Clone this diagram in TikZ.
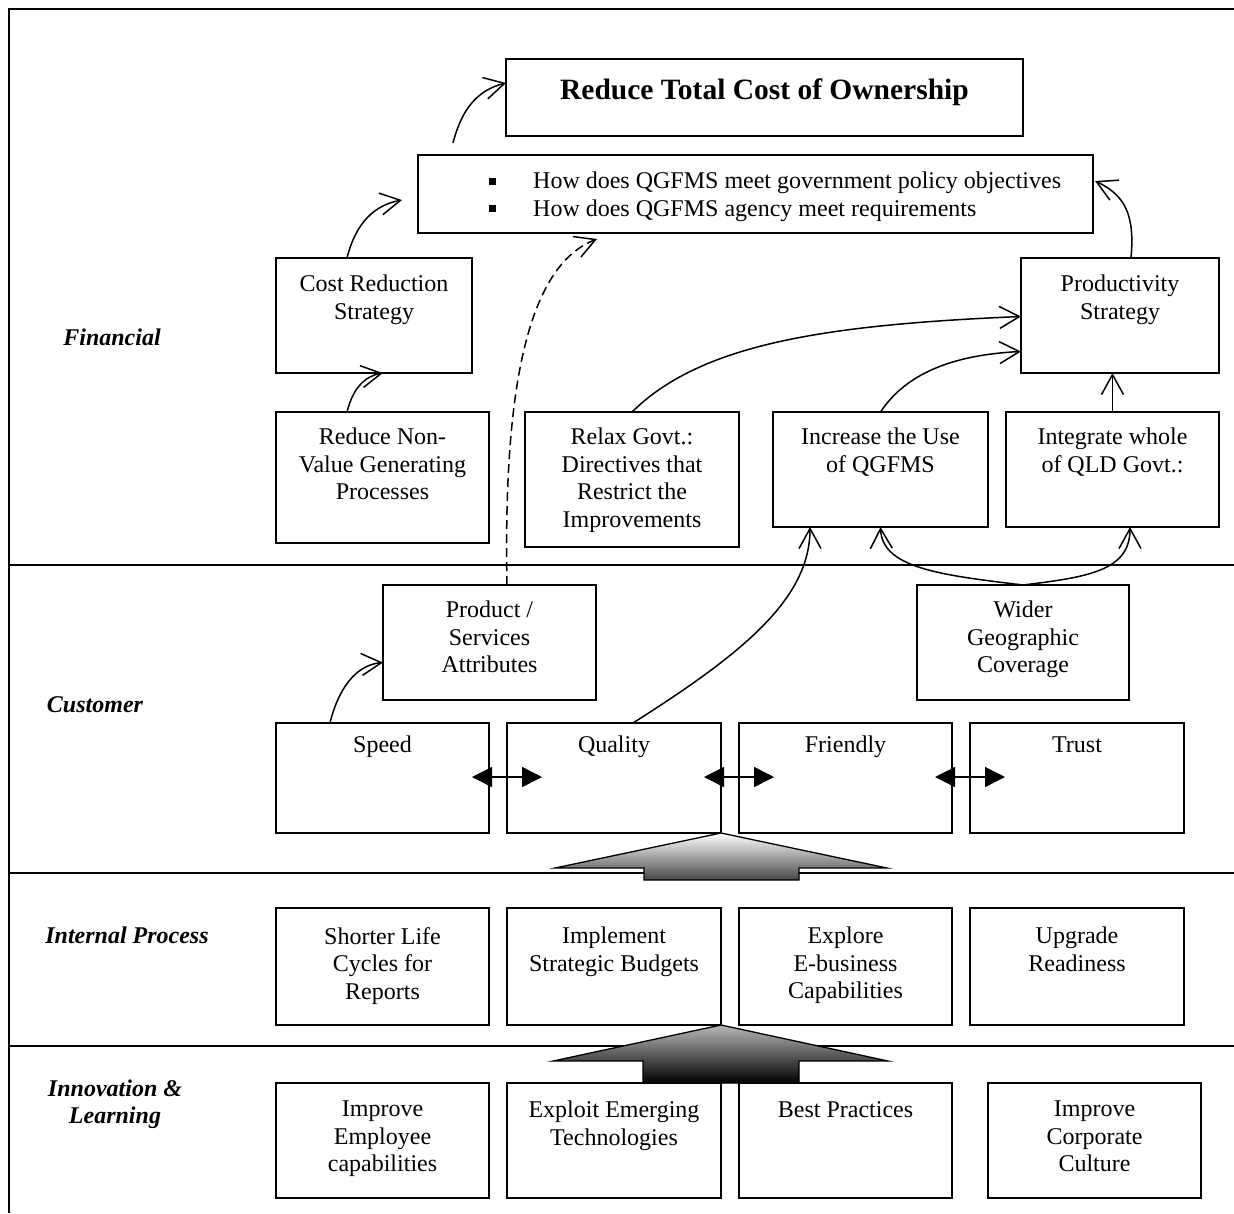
\documentclass[tikz,border=0pt]{standalone}
\usepackage{fontspec}
\setmainfont{Liberation Serif}
\usetikzlibrary{arrows.meta,calc,fit}
\begin{document}
\begin{tikzpicture}[x=1pt,y=-1pt,
  boxst/.style={draw, line width=1.7pt, inner sep=0pt, outer sep=0pt},
  txt/.style={align=center, inner sep=0pt, font=\fontsize{24}{27.5}\selectfont},
  lab/.style={align=center, inner sep=0pt, font=\fontsize{24}{27.5}\selectfont\bfseries\itshape},
  conn/.style={line width=1.5pt, -{Straight Barb[length=20pt,width=22pt,line width=1.5pt]}},
  dbl/.style={line width=1.5pt, {Triangle[length=20pt,width=20pt]}-{Triangle[length=20pt,width=20pt]}},
  sep/.style={line width=2.5pt}]
\useasboundingbox (0,0) rectangle (1234,1213);
\newcommand\mybox[7]{%
  \node[boxst, fit={(#2,#3) (#4,#5)}] (#1) {};
  \node[txt, anchor=north] (#1t) at ($(#1.north)+(0,#6)$) {#7};}

% frame and separators
\draw[sep] (1234,9) -- (9,9) -- (9,1213);
\coordinate (s1l) at (9,565); \coordinate (s1r) at (1234,565);
\coordinate (s2l) at (9,873); \coordinate (s2r) at (1234,873);
\coordinate (s3l) at (9,1046); \coordinate (s3r) at (1234,1046);
\draw[sep] (s1l) -- (s1r);
\draw[sep] (s2l) -- (s2r);
\draw[sep] (s3l) -- (s3r);

% left labels
\node[lab] (lfin) at (112,337) {Financial};
\node[lab] (lcus) at (95,705) {Customer};
\node[lab] (lint) at (127,935) {Internal Process};
\node[lab] (linn) at (115,1104) {Innovation \&\\Learning};

% top boxes
\node[boxst, fit={(506,59) (1023,136)}] (rtc) {};
\node[inner sep=0pt, anchor=north, font=\fontsize{29.5}{33}\selectfont\bfseries] (rtct) at ($(rtc.north)+(0,20)$) {Reduce Total Cost of Ownership};
\node[boxst, fit={(418,155) (1093,233)}] (bul) {};
\node[txt, align=left, anchor=north west] (bult) at ($(bul.north west)+(71,17)$)
 {\makebox[44pt][l]{\rule[4pt]{7pt}{7pt}}How does QGFMS meet government policy objectives\\
  \makebox[44pt][l]{\rule[4pt]{7pt}{7pt}}How does QGFMS agency meet requirements};

% financial
\mybox{cost}{276}{258}{472}{373}{17}{Cost Reduction\\Strategy}
\mybox{pstr}{1021}{258}{1219}{373}{17}{Productivity\\Strategy}
\mybox{rnv}{276}{412}{489}{543}{16}{Reduce Non-\\Value Generating\\Processes}
\mybox{relax}{525}{412}{739}{547}{16}{Relax Govt.:\\Directives that\\Restrict the\\Improvements}
\mybox{inc}{773}{412}{988}{527}{16}{Increase the Use\\of QGFMS}
\mybox{integ}{1006}{412}{1219}{527}{16}{Integrate whole\\of QLD Govt.:}

% customer
\mybox{prod}{383}{585}{596}{700}{16}{Product /\\Services\\Attributes}
\mybox{wid}{917}{585}{1129}{700}{16}{Wider\\Geographic\\Coverage}
\mybox{speed}{276}{723}{489}{833}{13}{Speed}
\mybox{qual}{507}{723}{721}{833}{13}{Quality}
\mybox{fri}{739}{723}{952}{833}{13}{Friendly}
\mybox{tru}{970}{723}{1184}{833}{14}{Trust}

% internal process
\mybox{slc}{276}{908}{489}{1025}{19}{Shorter Life\\Cycles for\\Reports}
\mybox{isb}{507}{908}{721}{1025}{19}{Implement\\Strategic Budgets}
\mybox{ebc}{739}{908}{952}{1025}{19}{Explore\\E-business\\Capabilities}
\mybox{upr}{970}{908}{1184}{1025}{19}{Upgrade\\Readiness}

% innovation
\mybox{iec}{276}{1083}{489}{1198}{18}{Improve\\Employee\\capabilities}
\mybox{eet}{507}{1083}{721}{1198}{18}{Exploit Emerging\\Technologies}
\mybox{bpr}{739}{1083}{952}{1198}{18}{Best Practices}
\mybox{icc}{988}{1083}{1201}{1198}{18}{Improve\\Corporate\\Culture}

% block arrows
\draw[line width=1.3pt, top color=white, bottom color=black!72]
  (qual.south east) -- (887,868) -- (799,868) -- (799,880) -- (644,880) -- (644,868) -- (555,868) -- cycle;
\draw[line width=1.3pt, top color=black!28, bottom color=black]
  (isb.south east) -- (888,1061) -- (799,1061) -- (eet.north -| 799,0) -- (eet.north -| 643,0) -- (643,1061) -- (553,1061) -- cycle;

% double arrows
\draw[dbl] ($(qual.west)+(-35,-1)$) -- ($(qual.west)+(35,-1)$);
\draw[dbl] ($(fri.west)+(-35,-1)$) -- ($(fri.west)+(35,-1)$);
\draw[dbl] ($(tru.west)+(-35,-1)$) -- ($(tru.west)+(35,-1)$);

% connectors
\draw[conn] ($(bul.north west)+(35,-12)$) .. controls (462,108) and (478,90) .. ($(rtc.north west)+(0,24)$);
\draw[conn] ($(cost.north west)+(71,0)$) .. controls (356,222) and (375,205) .. ($(bul.west)+(-16,6)$);
\draw[conn] ($(rnv.north west)+(71,0)$) .. controls (353,388) and (365,376) .. ($(cost.south west)+(107,0)$);
\draw[conn, dash pattern=on 9pt off 5pt] ($(prod.north west)+(124,0)$) .. controls (503,380) and (530,265) .. ($(bul.south west)+(179,6)$);
\draw[conn] (relax.north) .. controls (700,345) and (820,325) .. ($(pstr.west)+(0,1)$);
\draw[conn] (inc.north) .. controls (905,375) and (950,355) .. ($(pstr.west)+(0,36)$);
\draw[conn] (integ.north) -- (integ.north |- pstr.south);
\draw[conn] ($(pstr.north west)+(110,0)$) .. controls (1135,215) and (1125,195) .. ($(bul.east)+(2,-13)$);
\draw[conn] (wid.north) .. controls (940,575) and (882,568) .. (inc.south);
\draw[conn] (wid.north) .. controls (1090,577) and (1130,570) .. ($(integ.south west)+(124,0)$);
\draw[conn] ($(qual.north west)+(126,0)$) .. controls (740,655) and (810,600) .. ($(inc.south west)+(37,0)$);
\draw[conn] ($(speed.north west)+(54,0)$) .. controls (338,690) and (355,665) .. ($(prod.west)+(0,20)$);
\end{tikzpicture}
\end{document}
